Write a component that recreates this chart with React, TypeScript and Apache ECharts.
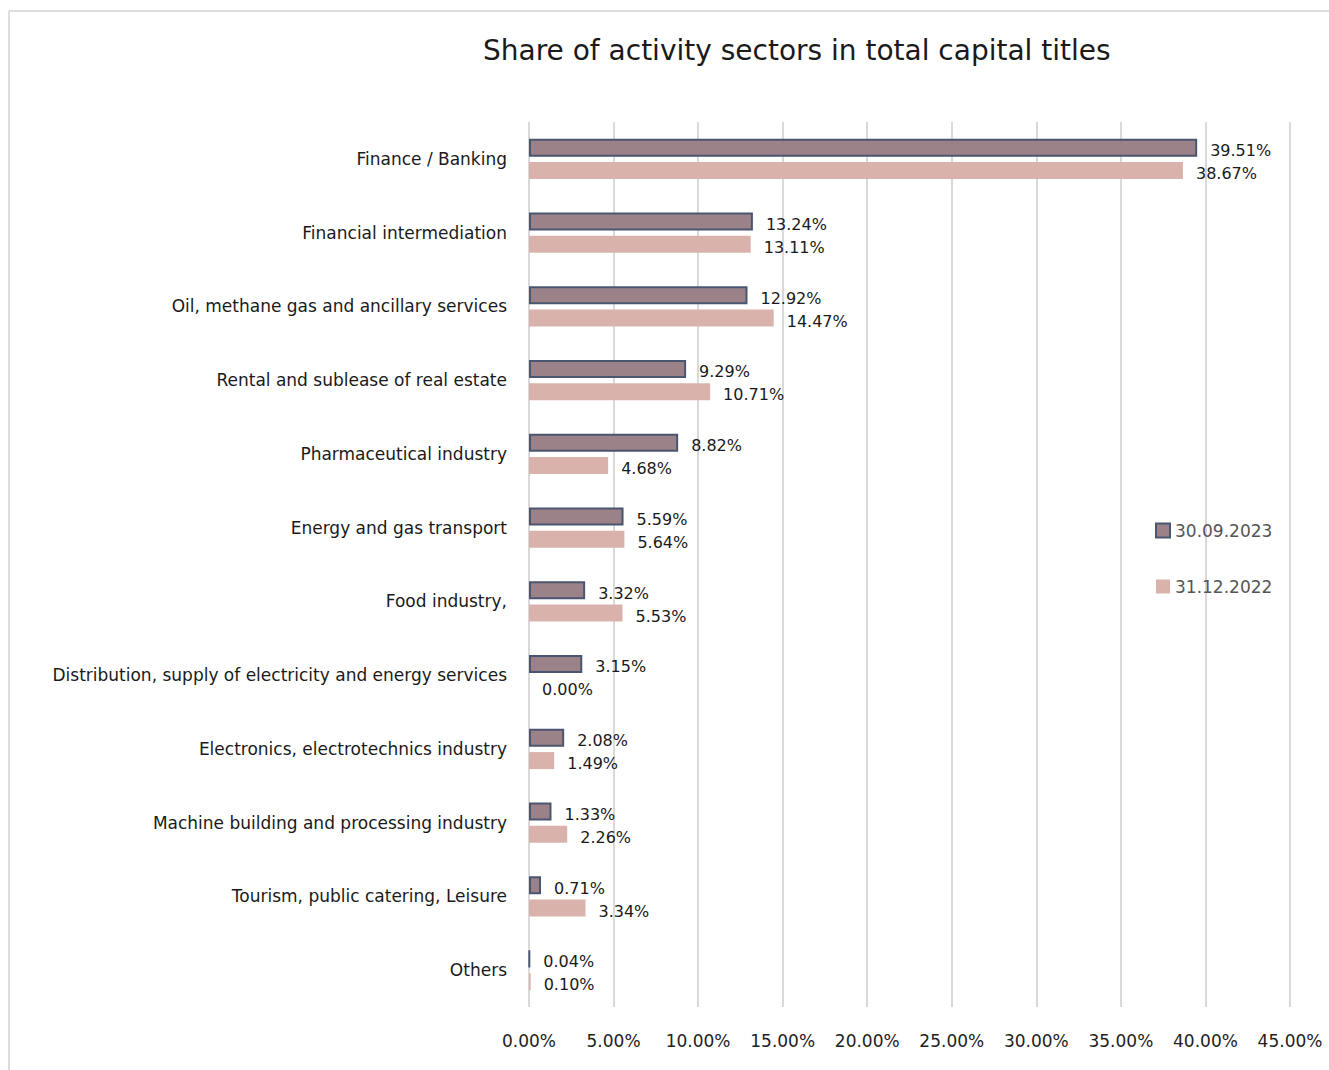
import React, { useEffect, useRef } from "react";
import * as echarts from "echarts";

const categories = [
  "Finance / Banking",
  "Financial intermediation",
  "Oil, methane gas and ancillary services",
  "Rental and sublease of real estate",
  "Pharmaceutical industry",
  "Energy and gas transport",
  "Food industry,",
  "Distribution, supply of electricity and energy services",
  "Electronics, electrotechnics industry",
  "Machine building and processing industry",
  "Tourism, public catering, Leisure",
  "Others",
];
const s2023 = [39.51, 13.24, 12.92, 9.29, 8.82, 5.59, 3.32, 3.15, 2.08, 1.33, 0.71, 0.04];
const s2022 = [38.67, 13.11, 14.47, 10.71, 4.68, 5.64, 5.53, 0.0, 1.49, 2.26, 3.34, 0.1];
const seriesNames = ["30.09.2023", "31.12.2022"];

const FONT = "'DejaVu Sans', Verdana, sans-serif";

export default function App() {
  const ref = useRef<HTMLDivElement>(null);
  useEffect(() => {
    const chart = echarts.init(ref.current!, null, { renderer: "svg" });
    chart.setOption({
      animation: false,
      backgroundColor: "#ffffff",
      textStyle: { fontFamily: FONT },
      title: {
        text: "Share of activity sectors in total capital titles",
        left: 478,
        top: 31,
        textStyle: { fontSize: 28, fontWeight: "normal", color: "#1a1a1a", fontFamily: FONT },
      },
      graphic: [
        { type: "line", shape: { x1: 9, y1: 11, x2: 1329, y2: 11 }, style: { stroke: "#dddddd", lineWidth: 2 } },
        { type: "line", shape: { x1: 9, y1: 11, x2: 9, y2: 1070 }, style: { stroke: "#dddddd", lineWidth: 2 } },
      ],
      legend: {
        orient: "vertical",
        left: 1150,
        top: 517,
        itemGap: 39,
        itemWidth: 14,
        itemHeight: 14,
        icon: "rect",
        textStyle: { fontSize: 17, color: "#555555", fontFamily: FONT },
        data: [
          { name: seriesNames[0], itemStyle: { color: "#9a8288", borderColor: "#4a5670", borderWidth: 2 } },
          { name: seriesNames[1], itemStyle: { color: "#d9b3ab" } },
        ],
      },
      grid: { left: 529, right: 39, top: 122, bottom: 63, containLabel: false },
      xAxis: {
        type: "value",
        min: 0,
        max: 45,
        interval: 5,
        axisLine: { show: false },
        axisTick: { show: false },
        splitLine: { show: true, lineStyle: { color: "#d9d9d9", width: 2 } },
        axisLabel: {
          formatter: (v: number) => v.toFixed(2) + "%",
          fontSize: 17,
          color: "#222222",
          margin: 25,
          fontFamily: FONT,
        },
      },
      yAxis: {
        type: "category",
        inverse: true,
        data: categories,
        axisLine: { show: false },
        axisTick: { show: false },
        axisLabel: { fontSize: 17, color: "#1a1a1a", margin: 22, fontFamily: FONT },
      },
      series: [
        {
          name: seriesNames[0],
          type: "bar",
          data: s2023,
          barWidth: 18,
          barGap: "30%",
          itemStyle: { color: "#9a8288", borderColor: "#4a5670", borderWidth: 2 },
          label: {
            show: true,
            position: "right",
            distance: 13,
            formatter: (p: any) => p.value.toFixed(2) + "%",
            fontSize: 16,
            color: "#1a1a1a",
            fontFamily: FONT,
            offset: [0, 3],
          },
        },
        {
          name: seriesNames[1],
          type: "bar",
          data: s2022,
          barWidth: 17,
          itemStyle: { color: "#d9b3ab" },
          label: {
            show: true,
            position: "right",
            distance: 13,
            formatter: (p: any) => p.value.toFixed(2) + "%",
            fontSize: 16,
            color: "#1a1a1a",
            fontFamily: FONT,
            offset: [0, 3],
          },
        },
      ],
    });
    return () => chart.dispose();
  }, []);
  return <div ref={ref} style={{ width: 1329, height: 1070, position: "absolute", left: 0, top: 0 }} />;
}
